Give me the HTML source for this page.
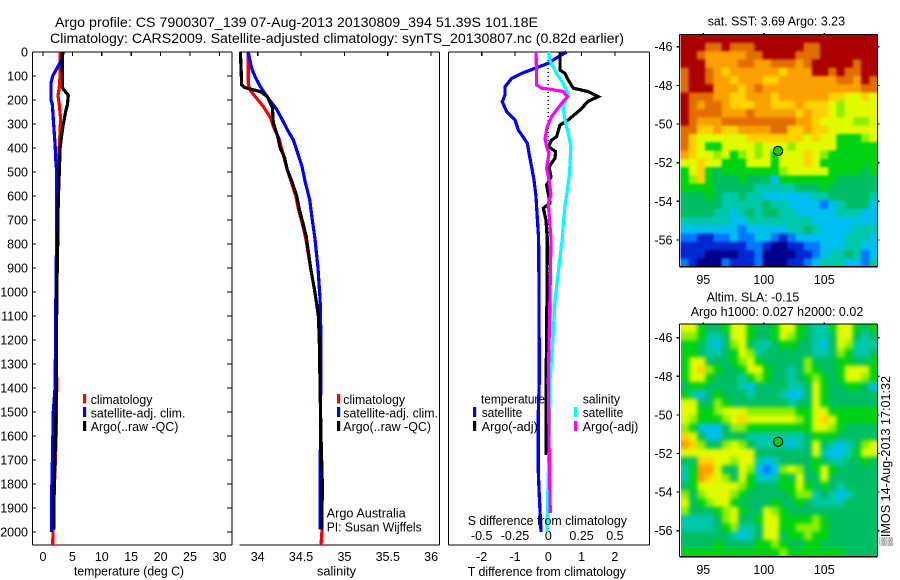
<!DOCTYPE html>
<html lang="en">
<head>
<meta charset="utf-8">
<title>Argo profile chart</title>
<style>
html,body{margin:0;padding:0;background:#fff;width:900px;height:580px;overflow:hidden}
svg{display:block}
text{font-family:"Liberation Sans",sans-serif;font-size:12.5px;fill:#000}
</style>
</head>
<body>
<svg id="chart" xmlns="http://www.w3.org/2000/svg" width="900" height="580" viewBox="0 0 900 580">
<defs>
<filter id="blur-sst" filterUnits="userSpaceOnUse" x="650" y="0" width="250" height="300" color-interpolation-filters="sRGB"><feGaussianBlur stdDeviation="1.3"/></filter>
<filter id="blur-sla" filterUnits="userSpaceOnUse" x="650" y="290" width="250" height="290" color-interpolation-filters="sRGB"><feGaussianBlur stdDeviation="2"/></filter>
<clipPath id="clip-sst"><rect x="680.5" y="34.5" width="197" height="232.2"/></clipPath>
<clipPath id="clip-sla"><rect x="681" y="324" width="196.5" height="232.7"/></clipPath>
</defs>
<rect x="0" y="0" width="900" height="580" fill="#fff"/>
<text x="55" y="27" textLength="483" lengthAdjust="spacingAndGlyphs" style="font-size:14px">Argo profile: CS 7900307_139 07-Aug-2013 20130809_394 51.39S 101.18E</text>
<text x="50" y="43" textLength="574" lengthAdjust="spacingAndGlyphs" style="font-size:14px">Climatology: CARS2009. Satellite-adjusted climatology: synTS_20130807.nc (0.82d earlier)</text>
<g id="layer-maps"></g>
<g id="layer-axes"></g>
<g id="layer-series"></g>
<g>
<rect x="83" y="394" width="3.2" height="9.5" fill="#f00"/>
<rect x="83" y="407" width="3.2" height="10" fill="#00f"/>
<rect x="83" y="421" width="3.2" height="10" fill="#000"/>
<text x="90.7" y="404" textLength="61.7" lengthAdjust="spacingAndGlyphs">climatology</text>
<text x="90.7" y="417.3" textLength="94.7" lengthAdjust="spacingAndGlyphs">satellite-adj. clim.</text>
<text x="90.7" y="431" textLength="87.7" lengthAdjust="spacingAndGlyphs">Argo(..raw -QC)</text>
</g>
<g>
<rect x="337" y="394" width="3.2" height="9.5" fill="#f00"/>
<rect x="337" y="407" width="3.2" height="10" fill="#00f"/>
<rect x="337" y="421" width="3.2" height="10" fill="#000"/>
<text x="343.3" y="404" textLength="61.7" lengthAdjust="spacingAndGlyphs">climatology</text>
<text x="343.3" y="417.3" textLength="94.7" lengthAdjust="spacingAndGlyphs">satellite-adj. clim.</text>
<text x="343.3" y="431" textLength="87.7" lengthAdjust="spacingAndGlyphs">Argo(..raw -QC)</text>
<text x="326.7" y="517.7" textLength="79" lengthAdjust="spacingAndGlyphs">Argo Australia</text>
<text x="326.7" y="531.7" textLength="95" lengthAdjust="spacingAndGlyphs">PI: Susan Wijffels</text>
</g>
<g>
<text x="481" y="403.3" textLength="64" lengthAdjust="spacingAndGlyphs">temperature</text>
<text x="582.7" y="403.3" textLength="37.3" lengthAdjust="spacingAndGlyphs">salinity</text>
<rect x="473" y="407" width="3.2" height="10" fill="#00f"/>
<rect x="473" y="421" width="3.2" height="10" fill="#000"/>
<rect x="574" y="407" width="3.2" height="10" fill="#0ff"/>
<rect x="574" y="421" width="3.2" height="10" fill="#f0f"/>
<text x="481.7" y="417" textLength="40.6" lengthAdjust="spacingAndGlyphs">satellite</text>
<text x="481.7" y="431" textLength="56" lengthAdjust="spacingAndGlyphs">Argo(-adj)</text>
<text x="582.7" y="417" textLength="40.6" lengthAdjust="spacingAndGlyphs">satellite</text>
<text x="582.7" y="431" textLength="55.6" lengthAdjust="spacingAndGlyphs">Argo(-adj)</text>
</g>
<text x="74" y="575.5" textLength="110" lengthAdjust="spacingAndGlyphs">temperature (deg C)</text>
<text x="317" y="575.5" textLength="39" lengthAdjust="spacingAndGlyphs">salinity</text>
<text x="467.7" y="525" textLength="159.3" lengthAdjust="spacingAndGlyphs">S difference from climatology</text>
<text x="467.7" y="576" textLength="158.3" lengthAdjust="spacingAndGlyphs">T difference from climatology</text>
<text x="707.7" y="25.7" textLength="137.3" lengthAdjust="spacingAndGlyphs">sat. SST: 3.69 Argo: 3.23</text>
<text x="706.7" y="301.7" textLength="92.6" lengthAdjust="spacingAndGlyphs">Altim. SLA: -0.15</text>
<text x="690.7" y="316" textLength="172.6" lengthAdjust="spacingAndGlyphs">Argo h1000: 0.027 h2000: 0.02</text>
<text transform="translate(890,546) rotate(-90)" x="0" y="0" textLength="170" lengthAdjust="spacingAndGlyphs">&#9618;IMOS 14-Aug-2013 17:01:32</text>
</svg>
<script>
// ---- tick labels ----
var depthTicks = [0,100,200,300,400,500,600,700,800,900,1000,1100,1200,1300,1400,1500,1600,1700,1800,1900,2000];
var temperatureTicks = [0,5,10,15,20,25,30];
var salinityTicks = [34,34.5,35,35.5,36];
var tDiffTicks = [-2,-1,0,1,2];
var sDiffTicks = [-0.5,-0.25,0,0.25,0.5];
var lonTicks = [95,100,105];
var latTicks = [-46,-48,-50,-52,-54,-56];

// ---- temperature panel ----
var tempClimDepth = [0,100,150,180,220,280,400,450,500,800,1000,1200,1400,1600,1800,2000,2054];
var tempClimValues = [2.9,2.9,2.75,2.55,2.78,3.0,2.78,2.6,2.75,2.4,2.3,2.3,2.33,2.25,1.95,1.7,1.65];
var tempSatDepth = [0,30,50,70,100,130,200,220,280,340,400,440,500,600,800,1000,1200,1400,1500,1700,1850,2000];
var tempSatValues = [3.46,3.17,2.78,2.33,1.65,1.36,1.36,1.6,1.76,1.93,2.1,2.15,2.33,2.33,2.3,2.2,2.15,2.04,1.76,1.6,1.47,1.47];
var tempArgoDepth = [0,150,180,220,250,300,350,400,500,600,800,1000,1200,1400,1500,1700,1850,1990];
var tempArgoValues = [3.29,3.3,4.3,4.15,3.85,3.46,3.17,2.9,2.78,2.6,2.5,2.35,2.3,2.3,2.2,2.04,1.87,1.87];

// ---- salinity panel ----
var salClimDepth = [0,130,158,185,227,276,310,365,435,490,545,600,655,710,770,900,1000,1100,1200,1370,1400,1850,2000,2054];
var salClimValues = [33.89,33.89,33.91,33.97,34.065,34.15,34.18,34.25,34.3,34.34,34.39,34.44,34.47,34.51,34.55,34.61,34.66,34.7,34.71,34.72,34.72,34.74,34.74,34.73];
var salSatDepth = [0,68,103,144,192,240,280,323,365,420,475,545,615,700,776,900,1033,1200,1400,1850,1990];
var salSatValues = [33.89,33.93,33.97,34.03,34.12,34.22,34.28,34.34,34.41,34.46,34.51,34.55,34.6,34.63,34.66,34.695,34.72,34.73,34.727,34.72,34.72];
var salArgoDepth = [0,137,148,165,185,233,295,350,400,440,490,545,600,655,710,770,900,1000,1100,1200,1400,1600,1800,1990];
var salArgoValues = [33.8,33.815,33.85,34.03,34.11,34.17,34.18,34.23,34.26,34.31,34.34,34.4,34.45,34.48,34.52,34.56,34.61,34.66,34.7,34.71,34.72,34.73,34.745,34.74];

// ---- difference panel ----
var diffTSatDepth = [0,20,47,68,89,110,144,179,207,249,283,325,380,422,478,533,603,672,776,1000,1367,1500,1750,1850,2000];
var diffTSatValues = [0.55,0.3,0,-0.4,-0.8,-1.1,-1.3,-1.3,-1.38,-1.25,-1,-0.9,-0.63,-0.58,-0.5,-0.43,-0.37,-0.34,-0.29,-0.28,-0.27,-0.3,-0.3,-0.27,-0.22];
var diffTArgoDepth = [0,75,89,117,151,165,186,205,242,283,304,353,367,394,415,443,478,520,554,630,651,700,783,1000,1300,1680];
var diffTArgoValues = [0.35,0.35,0.5,0.6,0.75,1.2,1.5,1.2,0.95,0.6,0.35,0.25,0.1,0,0.22,0.2,0.02,0.08,-0.05,0.05,-0.15,-0.07,-0.03,-0.04,-0.06,-0.07];
var diffSSatDepth = [0,40,89,130,175,228,283,339,394,436,506,575,644,714,776,1033,1242,1367,1650,1867,2000];
var diffSSatValues = [0,0.015,0.0625,0.11,0.15,0.11,0.125,0.15,0.17,0.165,0.16,0.1425,0.125,0.1125,0.105,0.05,0.03,0.0125,0.005,-0.005,-0.01];
var diffSArgoDepth = [0,89,137,151,156,165,186,214,269,311,360,394,422,485,533,596,630,686,776,1100,1367,1700,1920];
var diffSArgoValues = [-0.0925,-0.0875,-0.0875,-0.05,0.025,0.11,0.145,0.1,0.025,-0.0075,-0.025,-0.0125,0.005,-0.0125,0.005,0.02,0,0.0075,0.02,0.01,0,0.0075,0.015];

// ---- map cell values (colour level, rows north to south) ----
var sstGrid = [
[12,12,12,12,12,12,12,12,12,12,12,12,12,12,12,12,12,12,12,12,12,12,12,12],
[12,12,12,11,11,12,11,11,11,12,12,12,12,12,12,11,11,12,12,12,12,12,12,12],
[12,12,11,10,10,10,10,10,11,11,12,12,12,12,11,11,11,12,12,12,12,12,12,12],
[12,12,12,10,10,10,10,11,11,10,10,11,11,11,10,11,12,12,12,12,12,11,12,12],
[11,12,12,11,10,9,10,10,10,10,10,10,9,10,10,10,12,12,11,12,11,11,12,12],
[11,12,12,11,10,10,9,10,10,10,9,9,10,10,10,10,10,10,10,11,11,10,12,11],
[11,12,12,12,10,10,10,9,10,11,10,10,10,10,10,10,10,10,10,10,10,10,11,11],
[12,11,11,11,10,10,9,9,10,10,10,9,10,10,10,10,10,10,9,9,8,8,9,8],
[12,11,10,11,11,10,9,9,9,10,10,9,9,9,10,9,9,9,8,7,8,8,8,8],
[12,11,11,11,11,10,10,10,11,10,10,10,10,10,9,10,9,9,8,7,8,8,8,8],
[12,11,10,10,10,11,11,11,11,11,11,11,11,11,10,10,9,8,8,8,8,7,7,8],
[11,11,9,9,10,9,9,10,10,10,10,11,11,9,9,10,9,9,8,8,8,8,8,8],
[11,9,8,8,8,8,8,8,9,9,9,9,9,9,9,8,9,8,8,6,6,6,7,8],
[11,9,8,6,6,8,8,8,8,7,8,8,8,7,8,8,8,8,8,6,6,6,6,6],
[10,9,8,8,7,8,6,7,8,7,8,6,8,8,8,9,8,7,6,6,6,6,6,6],
[8,8,9,8,8,6,6,6,8,8,8,6,8,8,8,9,8,6,6,6,6,6,6,6],
[6,8,9,6,5,6,6,6,6,6,6,6,7,8,8,8,8,8,6,6,6,6,5,6],
[6,7,9,6,5,5,5,6,5,5,5,3,6,6,6,6,6,6,6,5,5,5,5,5],
[6,6,6,6,5,5,5,5,5,4,4,4,4,4,5,5,5,6,5,5,5,5,5,5],
[5,5,5,6,5,4,4,5,4,4,3,3,3,3,3,3,4,4,5,5,5,5,5,4],
[5,5,5,5,5,4,4,4,4,4,5,4,4,3,3,3,3,2,3,4,5,5,5,3],
[5,5,5,5,4,4,3,4,5,4,5,5,4,4,3,3,3,3,3,4,4,4,3,3],
[4,4,4,4,4,4,3,3,4,4,4,4,4,4,4,4,3,3,3,3,3,3,3,3],
[3,3,3,3,3,3,3,2,3,3,3,3,3,4,4,5,4,3,3,3,3,4,4,4],
[2,2,1,1,2,2,3,2,2,3,3,2,1,2,3,3,3,3,3,3,4,4,4,3],
[1,1,1,1,1,1,1,1,2,2,1,0,0,1,1,2,2,3,3,3,4,4,3,3],
[1,1,1,0,0,0,0,1,1,2,0,0,0,0,1,1,2,3,4,4,5,4,2,3],
[2,1,0,0,0,2,1,1,1,2,0,0,0,1,1,2,3,4,4,4,3,3,2,4]
];
var slaGrid = [
[8,8,6,5,5,6,8,8,6,5,5,6,8,8,6,5,4,4,6,8,8,6,5,6],
[7,7,6,4,4,5,8,8,6,5,5,6,8,7,6,5,4,4,5,8,8,5,4,5],
[6,6,5,4,3,5,7,8,5,4,4,5,6,6,5,5,4,3,5,8,7,4,4,4],
[6,6,5,4,4,5,6,8,7,4,5,5,5,5,5,5,4,4,5,7,6,4,4,5],
[6,8,8,5,5,5,6,7,8,6,5,5,5,5,5,7,5,5,5,6,6,5,5,6],
[6,8,9,7,6,5,5,6,8,8,6,5,5,4,5,7,6,5,5,6,8,8,8,6],
[6,8,8,6,5,5,5,4,6,7,6,5,5,4,5,6,7,6,5,6,8,8,7,6],
[5,6,6,5,5,5,5,4,3,5,5,5,5,4,4,5,8,6,5,5,6,6,5,3],
[6,4,3,5,6,5,5,5,4,5,5,5,4,3,3,5,8,6,5,5,5,5,5,5],
[8,8,5,5,7,6,5,5,5,5,5,5,5,4,5,5,8,6,5,5,5,5,5,5],
[8,8,6,6,7,8,8,8,7,7,7,7,7,7,6,6,8,8,6,6,6,6,6,6],
[8,7,6,6,6,7,8,9,8,8,8,8,8,8,7,6,8,9,8,6,6,6,6,6],
[7,6,3,3,3,5,7,7,6,6,6,6,6,6,6,6,8,8,7,6,5,5,5,5],
[9,8,5,3,3,5,5,5,4,4,4,4,4,4,4,5,6,6,6,5,5,5,5,5],
[10,9,7,5,5,7,8,7,5,4,4,4,4,3,4,5,8,5,4,3,4,5,7,8],
[8,8,8,8,8,8,8,8,8,5,5,5,5,5,5,5,8,4,3,3,4,6,8,8],
[5,5,9,9,8,8,7,8,8,4,3,4,5,5,5,5,6,5,4,4,5,5,6,5],
[4,6,10,10,8,5,5,8,7,3,2,3,7,8,7,5,6,8,6,5,5,5,5,5],
[4,6,10,9,8,7,5,8,6,4,3,4,6,5,8,5,5,8,5,5,5,5,5,5],
[5,6,8,8,8,8,8,7,6,5,5,5,6,6,8,6,5,6,5,4,5,5,5,5],
[7,5,7,8,8,8,7,6,5,5,5,5,5,6,7,7,4,5,4,3,4,5,5,5],
[8,5,6,7,8,8,6,5,5,5,5,6,5,5,6,5,4,4,4,4,5,5,5,5],
[7,5,5,5,6,7,8,6,5,5,8,7,6,5,5,5,5,5,5,5,5,5,5,5],
[4,4,4,4,5,7,8,5,5,6,8,8,6,6,6,6,7,6,5,5,5,5,5,5],
[4,4,4,4,5,6,7,4,4,5,8,8,6,6,7,7,7,6,5,5,5,5,5,5],
[5,5,5,5,5,5,4,3,4,5,8,8,5,6,6,7,6,6,5,5,5,5,5,5],
[5,5,5,5,6,5,5,5,5,6,6,7,6,5,5,6,6,5,5,5,5,5,5,5],
[6,6,6,6,6,6,6,6,6,6,6,6,7,6,6,6,6,6,6,6,5,5,5,5]
];
var argoLon = 101.18;
var argoLat = -51.39;

var NS = 'http://www.w3.org/2000/svg';
var mapsLayer = document.getElementById('layer-maps');
var axesLayer = document.getElementById('layer-axes');
var seriesLayer = document.getElementById('layer-series');
var levelColor = ['#00008c','#0028d2','#0078ff','#00bef0','#00c8aa','#00be64','#00d214','#8cf000','#e1fa00','#ffd200','#faa000','#e16e00','#aa0000'];

function yDepth(d){ return 52 + d * 0.24; }
function xTemp(v){ return 43 + v * 5.88; }
function xSal(v){ return 257.7 + (v - 34) * 86.7; }
function xTDiff(v){ return 548.3 + v * 33.3; }
function xSDiff(v){ return 548.3 + v * 133.2; }

function line(parent, x1, y1, x2, y2, name){
  var el = document.createElementNS(NS, 'line');
  el.setAttribute('x1', x1);
  el.setAttribute('y1', y1);
  el.setAttribute('x2', x2);
  el.setAttribute('y2', y2);
  el.setAttribute('stroke', '#000');
  el.setAttribute('stroke-width', '1.2');
  el.setAttribute('shape-rendering', 'crispEdges');
  
  
  parent.appendChild(el);
  return el;
}
function label(parent, x, y, str, anchor, name){
  var el = document.createElementNS(NS, 'text');
  el.setAttribute('x', x);
  el.setAttribute('y', y);
  el.setAttribute('text-anchor', anchor);
  
  
  el.textContent = str;
  parent.appendChild(el);
  return el;
}
function profile(depths, values, xFn, color, name){
  var pts = [];
  for (var i = 0; i < depths.length; i++) {
    pts.push(xFn(values[i]).toFixed(1) + ',' + yDepth(depths[i]).toFixed(1));
  }
  var el = document.createElementNS(NS, 'polyline');
  el.setAttribute('points', pts.join(' '));
  el.setAttribute('fill', 'none');
  el.setAttribute('stroke', color);
  el.setAttribute('stroke-width', '3.2');
  el.setAttribute('shape-rendering', 'crispEdges');
  
  
  seriesLayer.appendChild(el);
}

// ---- panel frames and ticks ----
var TOP = 52, BOTTOM = 545;
line(axesLayer, 32.5, TOP, 232, TOP, 'temperature-top-axis');
line(axesLayer, 32.5, BOTTOM, 232, BOTTOM, 'temperature-bottom-axis');
line(axesLayer, 32.5, TOP, 32.5, BOTTOM, 'temperature-left-axis');
line(axesLayer, 232, TOP, 232, BOTTOM, 'temperature-right-axis');
line(axesLayer, 239.5, TOP, 439.5, TOP, 'salinity-top-axis');
line(axesLayer, 239.5, BOTTOM, 439.5, BOTTOM, 'salinity-bottom-axis');
line(axesLayer, 439.5, TOP, 439.5, BOTTOM, 'salinity-right-axis');
line(axesLayer, 448.5, TOP, 649.5, TOP, 'difference-top-axis');
line(axesLayer, 448.5, BOTTOM, 649.5, BOTTOM, 'difference-bottom-axis');
line(axesLayer, 448.5, TOP, 448.5, BOTTOM, 'difference-left-axis');
line(axesLayer, 649.5, TOP, 649.5, BOTTOM, 'difference-right-axis');

depthTicks.forEach(function(d){
  var y = yDepth(d);
  line(axesLayer, 32.5, y, 36, y, 'depth-tick-left');
  line(axesLayer, 227, y, 232, y, 'depth-tick-right');
  label(axesLayer, 28, y + 4.5, String(d), 'end', 'depth-tick-label');
});
temperatureTicks.forEach(function(v){
  var x = xTemp(v);
  line(axesLayer, x, TOP, x, TOP + 4, 'temperature-tick');
  label(axesLayer, x, 561, String(v), 'middle', 'temperature-tick-label');
});
salinityTicks.forEach(function(v){
  var x = xSal(v);
  line(axesLayer, x, TOP, x, TOP + 4, 'salinity-tick');
  label(axesLayer, x, 561, String(v), 'middle', 'salinity-tick-label');
});
tDiffTicks.forEach(function(v){
  var x = xTDiff(v);
  line(axesLayer, x, TOP, x, TOP + 4, 't-difference-tick');
  label(axesLayer, x, 561, String(v), 'middle', 't-difference-tick-label');
});
sDiffTicks.forEach(function(v){
  label(axesLayer, xSDiff(v), 540, String(v), 'middle', 's-difference-tick-label');
});

// ---- zero reference line ----
var zeroLine = line(axesLayer, xTDiff(0), TOP, xTDiff(0), 532, 'zero-difference-line');
zeroLine.setAttribute('stroke-dasharray', '1 3');

// ---- profiles ----
profile(tempClimDepth, tempClimValues, xTemp, '#f00', 'temperature-climatology-line');
profile(tempSatDepth, tempSatValues, xTemp, '#00f', 'temperature-satellite-line');
profile(tempArgoDepth, tempArgoValues, xTemp, '#000', 'temperature-argo-line');
profile(salClimDepth, salClimValues, xSal, '#f00', 'salinity-climatology-line');
profile(salSatDepth, salSatValues, xSal, '#00f', 'salinity-satellite-line');
profile(salArgoDepth, salArgoValues, xSal, '#000', 'salinity-argo-line');
profile(diffTSatDepth, diffTSatValues, xTDiff, '#00f', 't-difference-satellite-line');
profile(diffTArgoDepth, diffTArgoValues, xTDiff, '#000', 't-difference-argo-line');
profile(diffSSatDepth, diffSSatValues, xSDiff, '#0ff', 's-difference-satellite-line');
profile(diffSArgoDepth, diffSArgoValues, xSDiff, '#f0f', 's-difference-argo-line');

// ---- maps ----
function drawMap(grid, mapName, clipId, blurId, left, right, top, bottom, y46, pxPerDegLat){
  var xLon = function(lon){ return 703.3 + (lon - 95) * 12.1; };
  var yLat = function(lat){ return y46 + (-46 - lat) * pxPerDegLat; };
  var rows = grid.length;
  var cols = grid[0].length;
  var cw = (right - left) / cols;
  var ch = (bottom - top) / rows;
  var clipGroup = document.createElementNS(NS, 'g');
  clipGroup.setAttribute('clip-path', 'url(#' + clipId + ')');
  
  
  var blurGroup = document.createElementNS(NS, 'g');
  blurGroup.setAttribute('filter', 'url(#' + blurId + ')');
  
  
  clipGroup.appendChild(blurGroup);
  mapsLayer.appendChild(clipGroup);
  for (var r = 0; r < rows; r++) {
    for (var c = 0; c < cols; c++) {
      var x0 = left + c * cw - (c === 0 ? 10 : 0);
      var x1 = left + (c + 1) * cw + (c === cols - 1 ? 10 : 0.4);
      var y0 = top + r * ch - (r === 0 ? 10 : 0);
      var y1 = top + (r + 1) * ch + (r === rows - 1 ? 10 : 0.4);
      var cell = document.createElementNS(NS, 'rect');
      cell.setAttribute('x', x0.toFixed(2));
      cell.setAttribute('y', y0.toFixed(2));
      cell.setAttribute('width', (x1 - x0).toFixed(2));
      cell.setAttribute('height', (y1 - y0).toFixed(2));
      cell.setAttribute('fill', levelColor[grid[r][c]]);
      
      
      blurGroup.appendChild(cell);
    }
  }
  line(mapsLayer, 679.5, top, right, top, mapName + '-top-axis');
  line(mapsLayer, 679.5, bottom, right, bottom, mapName + '-bottom-axis');
  line(mapsLayer, 679.5, top, 679.5, bottom, mapName + '-left-axis');
  line(mapsLayer, right, top, right, bottom, mapName + '-right-axis');
  lonTicks.forEach(function(lon){
    var x = xLon(lon);
    line(mapsLayer, x, top - 1.5, x, top, mapName + '-lon-tick');
    label(mapsLayer, x, bottom + 17.5, String(lon), 'middle', mapName + '-lon-label');
  });
  latTicks.forEach(function(lat){
    var y = yLat(lat);
    line(mapsLayer, 676.5, y, 679.5, y, mapName + '-lat-tick-left');
    line(mapsLayer, right, y, right + 2, y, mapName + '-lat-tick-right');
    label(mapsLayer, 672.5, y + 4.5, String(lat), 'end', mapName + '-lat-label');
  });
  var dot = document.createElementNS(NS, 'circle');
  dot.setAttribute('cx', xLon(argoLon));
  dot.setAttribute('cy', yLat(argoLat));
  dot.setAttribute('r', '4.6');
  dot.setAttribute('fill', '#18c818');
  dot.setAttribute('stroke', '#000');
  dot.setAttribute('stroke-width', '1.1');
  
  
  mapsLayer.appendChild(dot);
}
drawMap(sstGrid, 'sst-map', 'clip-sst', 'blur-sst', 680.5, 877.5, 34.5, 266.7, 46.7, 19.33);
drawMap(slaGrid, 'sla-map', 'clip-sla', 'blur-sla', 681, 877.5, 324, 556.7, 337.7, 19.3);
</script>
</body>
</html>
